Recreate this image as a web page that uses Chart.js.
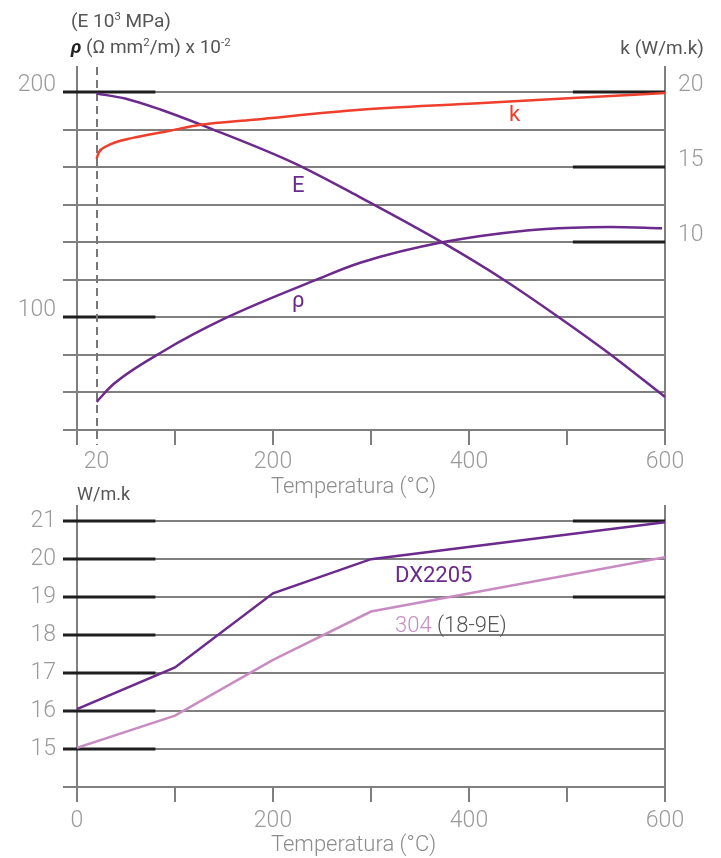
<!DOCTYPE html>
<html><head><meta charset="utf-8">
<script src="https://cdn.jsdelivr.net/npm/chart.js@4/dist/chart.umd.min.js"></script>
<style>
html,body{margin:0;padding:0;background:#fff;}
body{width:721px;height:858px;position:relative;overflow:hidden;font-family:Roboto,"Noto Sans",sans-serif;}
.box{position:absolute;left:0;width:721px;}
.t{position:absolute;white-space:nowrap;line-height:1;z-index:2;}
.hd{font-size:19px;color:#555;font-weight:400;}
.ttl{font-size:22px;color:#8c8c8c;font-weight:300;width:721px;text-align:center;left:0;}
sup{font-size:0.6em;vertical-align:0.6em;line-height:0;}
</style></head><body>
<div class="box" style="top:0;height:500px"><canvas id="c1"></canvas></div>
<div class="box" style="top:470px;height:388px"><canvas id="c2"></canvas></div>

<div class="t hd" style="left:71px;top:11px">(E 10<sup>3</sup> MPa)</div>
<div class="t hd" style="left:71px;top:37px"><b><i style="color:#222">ρ</i></b> (Ω mm<sup>2</sup>/m) x 10<sup>-2</sup></div>
<div class="t hd" style="right:17px;top:38px">k (W/m.k)</div>
<div class="t hd" style="left:77px;top:485px;font-size:18px">W/m.k</div>
<div class="t ttl" style="top:475px;left:-7px">Temperatura (°C)</div>
<div class="t ttl" style="top:833px;left:-7px">Temperatura (°C)</div>
<div class="t" style="left:292px;top:174px;font-size:22px;color:#6b2a8c">E</div>
<div class="t" style="left:292px;top:289px;font-size:22px;color:#6b2a8c">ρ</div>
<div class="t" style="left:509px;top:103px;font-size:22px;color:#ee3f2d">k</div>
<div class="t" style="left:395px;top:564px;font-size:22px;color:#6b2a8c">DX2205</div>
<div class="t" style="left:395px;top:614px;font-size:22px;color:#555"><span style="color:#c98cc2;font-weight:300">304</span> <span style="font-weight:300">(18-9E)</span></div>

<script>
// ---- Top chart data ----
const eTemp    = [20, 50, 85, 139, 221, 289, 375, 435, 493, 540, 600];
const eValues  = [199.5, 197.2, 192.4, 183.5, 168.7, 153.4, 132.8, 116.9, 99.7, 85.0, 64.7];
const rhoTemp  = [20, 37, 88, 153, 245, 289, 374, 459, 506, 544, 597];
const rhoValues= [62.5, 70.3, 85.0, 100.0, 116.9, 124.3, 133.5, 138.7, 139.9, 140.2, 139.7];
const kTemp    = [20, 22, 30, 57, 92, 126, 180, 289, 400, 506, 600];
const kValues  = [15.57, 15.97, 16.41, 16.97, 17.41, 17.85, 18.18, 18.85, 19.25, 19.63, 19.96];
const topXTicks  = [0, 20, 100, 200, 300, 400, 500, 600];
const topXLabels = [20, 200, 400, 600];
const topLeftGrid = [50, 66.667, 83.333, 100, 116.667, 133.333, 150, 166.667, 183.333, 200];
const topLeftLabels = [100, 200];
const topRightTicks = [10, 15, 20];

// ---- Bottom chart data ----
const botTemp     = [0, 100, 200, 300, 600];
const dx2205      = [16.05, 17.15, 19.1, 20.0, 20.97];
const temp304     = [0, 100, 200, 300, 600];
const s304        = [15.03, 15.88, 17.35, 18.62, 20.05];
const botXTicks   = [0, 100, 200, 300, 400, 500, 600];
const botXLabels  = [0, 200, 400, 600];
const botYTicks   = [14, 15, 16, 17, 18, 19, 20, 21];
const botYLabels  = [15, 16, 17, 18, 19, 20, 21];

const GRID = '#7f7f7f', TICKC = '#9a9a9a', PURPLE = '#6b2a8c', RED = '#ee3f2d', PINK = '#c98cc2';
const tickFont = {family: 'Roboto', size: 23, weight: '300'};
const pts = (xs, ys) => xs.map((x, i) => ({x, y: ys[i]}));

function guides(id, axisL, leftVals, axisR, rightVals, dashX) {
  return { id, beforeDatasetsDraw(chart) {
    const {ctx, chartArea: a, scales} = chart;
    const x = scales.x;
    ctx.save();
    ctx.strokeStyle = '#1e1e1e'; ctx.lineWidth = 3;
    leftVals.forEach(v => { const y = Math.round(scales[axisL].getPixelForValue(v));
      ctx.beginPath(); ctx.moveTo(a.left - 14, y); ctx.lineTo(x.getPixelForValue(80), y); ctx.stroke(); });
    rightVals.forEach(v => { const y = Math.round(scales[axisR].getPixelForValue(v));
      ctx.beginPath(); ctx.moveTo(x.getPixelForValue(506), y); ctx.lineTo(a.right, y); ctx.stroke(); });
    if (dashX !== null) {
      const px = Math.round(x.getPixelForValue(dashX));
      ctx.strokeStyle = '#777'; ctx.lineWidth = 2; ctx.setLineDash([8, 5]);
      ctx.beginPath(); ctx.moveTo(px, a.top); ctx.lineTo(px, a.bottom + 15); ctx.stroke();
    }
    ctx.restore();
  }};
}

function xAxis(ticksArr, labelsArr, hideVal, pad) {
  return {
    type: 'linear', min: 0, max: 600,
    afterBuildTicks: s => { s.ticks = ticksArr.map(v => ({value: v})); },
    afterFit: s => { s.height = 70; },
    grid: {drawOnChartArea: false, drawTicks: true, tickLength: 15, lineWidth: 2,
           color: c => (c.tick && c.tick.value === hideVal) ? 'rgba(0,0,0,0)' : GRID},
    border: {display: false},
    ticks: {autoSkip: false, maxRotation: 0, padding: pad, color: TICKC, font: tickFont,
            callback: v => labelsArr.includes(v) ? String(v) : ''}
  };
}

const common = {
  responsive: true, maintainAspectRatio: false, animation: false,
  plugins: {legend: {display: false}, tooltip: {enabled: false}},
  elements: {point: {radius: 0}}
};

new Chart(document.getElementById('c1'), {
  type: 'line',
  data: { datasets: [
    {data: pts(kTemp, kValues), yAxisID: 'y1', borderColor: RED, borderWidth: 2.5, cubicInterpolationMode: 'monotone'},
    {data: pts(eTemp, eValues), yAxisID: 'y', borderColor: PURPLE, borderWidth: 2.5, cubicInterpolationMode: 'monotone'},
    {data: pts(rhoTemp, rhoValues), yAxisID: 'y', borderColor: PURPLE, borderWidth: 2.5, cubicInterpolationMode: 'monotone'}
  ]},
  options: Object.assign({}, common, {
    layout: {padding: {top: 67, left: 0, right: 0, bottom: 0}},
    scales: {
      x: xAxis(topXTicks, topXLabels, 20, 3),
      y: {position: 'left', min: 50, max: 211.3,
          afterBuildTicks: s => { s.ticks = topLeftGrid.map(v => ({value: v})); },
          afterFit: s => { s.width = 77; },
          grid: {color: GRID, lineWidth: 2, tickLength: 14, drawTicks: true},
          border: {display: true, color: GRID, width: 2},
          ticks: {autoSkip: false, padding: 7, labelOffset: -7, color: TICKC, font: tickFont,
                  callback: v => topLeftLabels.some(l => Math.abs(l - v) < 0.01) ? String(Math.round(v)) : ''}},
      y1: {position: 'right', min: -2.5, max: 21.695,
          afterBuildTicks: s => { s.ticks = topRightTicks.map(v => ({value: v})); },
          afterFit: s => { s.width = 56; },
          grid: {drawOnChartArea: false, drawTicks: false},
          border: {display: true, color: GRID, width: 2},
          ticks: {autoSkip: false, padding: 13, labelOffset: -7, color: TICKC, font: tickFont}}
    }
  }),
  plugins: [guides('g1', 'y', [100, 200], 'y1', [10, 15, 20], 20)]
});

new Chart(document.getElementById('c2'), {
  type: 'line',
  data: { datasets: [
    {data: pts(botTemp, dx2205), yAxisID: 'y', borderColor: PURPLE, borderWidth: 2.5, tension: 0},
    {data: pts(temp304, s304), yAxisID: 'y', borderColor: PINK, borderWidth: 2.5, tension: 0}
  ]},
  options: Object.assign({}, common, {
    layout: {padding: {top: 36, left: 0, right: 0, bottom: 0}},
    scales: {
      x: Object.assign(xAxis(botXTicks, botXLabels, null, 5), {afterFit: s => { s.height = 71; }}),
      y: {position: 'left', min: 14, max: 21.4,
          afterBuildTicks: s => { s.ticks = botYTicks.map(v => ({value: v})); },
          afterFit: s => { s.width = 77; },
          grid: {color: GRID, lineWidth: 2, tickLength: 14, drawTicks: true},
          border: {display: true, color: GRID, width: 2},
          ticks: {autoSkip: false, padding: 7, color: TICKC, font: tickFont,
                  callback: v => botYLabels.includes(v) ? String(v) : ''}},
      y1: {position: 'right', min: 14, max: 21.4,
          afterFit: s => { s.width = 56; },
          grid: {drawOnChartArea: false, drawTicks: false},
          border: {display: true, color: GRID, width: 2},
          ticks: {display: false}}
    }
  }),
  plugins: [guides('g2', 'y', [15, 16, 17, 18, 19, 20, 21], 'y', [19, 21], null)]
});
</script>
</body></html>
